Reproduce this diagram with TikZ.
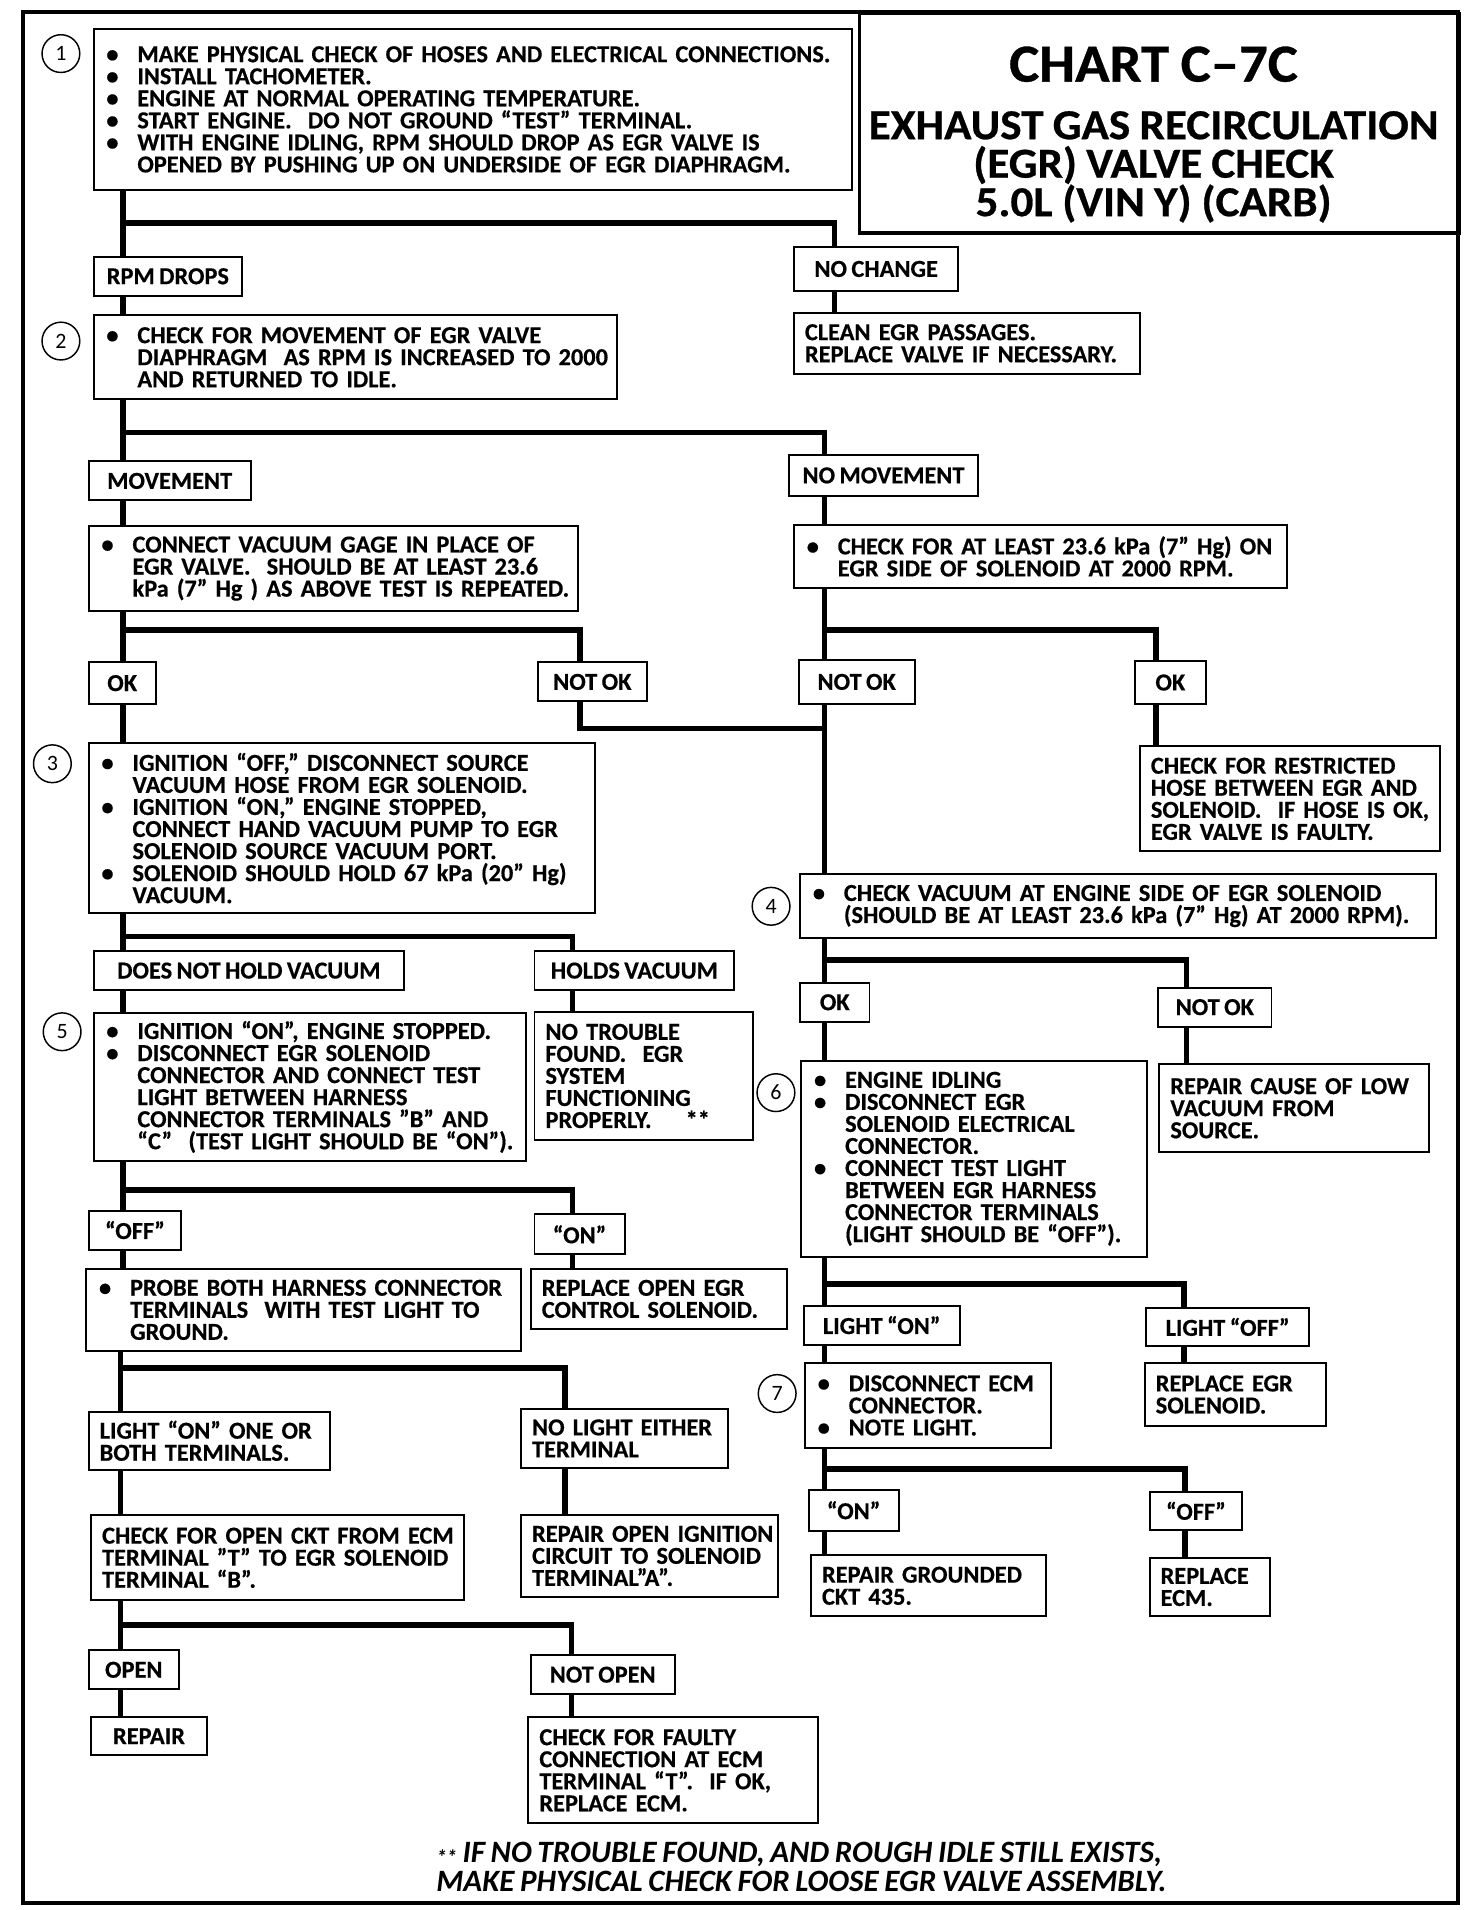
\documentclass[tikz,border=0pt]{standalone}
\usepackage{fontspec}
\setmainfont{Carlito}[WordSpace=0.8, BoldFeatures={FakeBold=0.5}]
\newfontfamily\titlefont{Carlito}[FakeStretch=1.06, WordSpace=0.9, BoldFeatures={FakeBold=0.6}]
\usetikzlibrary{calc}
\pgfdeclarelayer{bg}
\pgfsetlayers{bg,main}
\newlength\bind
\setlength\bind{27pt}
\newcommand\myL[1]{\hbox{#1}\par\noindent\ignorespaces}
\newcommand\myB[1]{\hbox{\makebox[\bind][l]{\hspace{1.5pt}\textbullet}#1}\par\noindent\ignorespaces}
\newcommand\myC[1]{\hbox{\hspace{\bind}#1}\par\noindent\ignorespaces}
\newcommand\boxfont{\fontsize{20}{18.1}\selectfont\bfseries}
\tikzset{
  box/.style={draw, line width=1.6pt, fill=white, inner xsep=9pt, inner ysep=0pt, anchor=north west, font=\boxfont},
  lbl/.style={draw, line width=1.6pt, fill=white, inner sep=0pt, anchor=north west, font=\boxfont},
  conn/.style={line width=4.5pt, line cap=rect, line join=miter},
  num/.style={draw, circle, line width=1.2pt, minimum size=31pt, inner sep=0pt, fill=white, font=\fontsize{18}{18}\selectfont},
  ttl/.style={inner sep=0pt},
  foot/.style={anchor=base west, inner sep=0pt, font=\fontsize{25.5}{26}\selectfont\bfseries\itshape},
}
\newcommand\bx[5]{\node[box, minimum width=#3pt, minimum height=#4pt, text width=#3pt-18pt] (#1) at (#2) {\lineskiplimit=-50pt\lineskip=0pt\relax\ignorespaces#5};}
\newcommand\lb[5]{\node[lbl, minimum width=#3pt, minimum height=#4pt] (#1) at (#2) {#5};}
\begin{document}
\begin{tikzpicture}[x=1pt,y=-1pt]
\useasboundingbox (0,0) rectangle (1208,1568);
\draw[line width=3.4pt] (19,10) rectangle (1197,1562);
\node[draw, line width=2.6pt, anchor=north west, minimum width=493pt, minimum height=180pt, inner sep=0pt] (title) at (704,10) {};
\node[ttl, anchor=base, font=\titlefont\fontsize{44}{44}\selectfont\bfseries] (t1) at (947,67) {CHART C–7C};
\node[ttl, anchor=center, align=center, font=\titlefont\fontsize{35}{31.6}\selectfont\bfseries] (t2) at (947,137) {EXHAUST GAS RECIRCULATION\\(EGR) VALVE CHECK\\5.0L\hspace{8pt}(VIN Y)\hspace{8pt}(CARB)};

\bx{b1}{76,23}{623}{132}{
\myB{MAKE PHYSICAL CHECK OF HOSES AND ELECTRICAL CONNECTIONS.}
\myB{INSTALL TACHOMETER.}
\myB{ENGINE AT NORMAL OPERATING TEMPERATURE.}
\myB{START ENGINE.\ \ DO NOT GROUND “TEST” TERMINAL.}
\myB{WITH ENGINE IDLING, RPM SHOULD DROP AS EGR VALVE IS}
\myC{OPENED BY PUSHING UP ON UNDERSIDE OF EGR DIAPHRAGM.}}
\node[num] (n1) at (50,44) {1};
\lb{rpm}{76,210}{122}{32}{RPM DROPS}
\lb{nochange}{651,202}{135}{36}{NO CHANGE}
\bx{clean}{651,256}{284}{50}{\myL{CLEAN EGR PASSAGES.}\myL{REPLACE VALVE IF NECESSARY.}}
\bx{b2}{76,258}{430}{69}{\myB{CHECK FOR MOVEMENT OF EGR VALVE}\myC{DIAPHRAGM\ \ AS RPM IS INCREASED TO 2000}\myC{AND RETURNED TO IDLE.}}
\node[num] (n2) at (50,280) {2};
\lb{movement}{72,378}{133}{32}{MOVEMENT}
\lb{nomove}{647,373}{155}{33}{NO MOVEMENT}
\bx{vac}{72,431}{402}{70}{\myB{CONNECT VACUUM GAGE IN PLACE OF}\myC{EGR VALVE.\ \ SHOULD BE AT LEAST 23.6}\myC{kPa (7” Hg ) AS ABOVE TEST IS REPEATED.}}
\bx{chk}{651,430}{405}{52}{\myB{CHECK FOR AT LEAST 23.6 kPa (7” Hg) ON}\myC{EGR SIDE OF SOLENOID AT 2000 RPM.}}
\lb{okL}{72,543}{55}{34}{OK}
\lb{notokL}{441,543}{89}{32}{NOT OK}
\lb{notokR}{655,541}{95}{36}{NOT OK}
\lb{okR}{931,542}{58}{35}{OK}
\bx{restr}{935,612}{246}{86}{\myL{CHECK FOR RESTRICTED}\myL{HOSE BETWEEN EGR AND}\myL{SOLENOID.\ \ IF HOSE IS OK,}\myL{EGR VALVE IS FAULTY.}}
\bx{b3}{72,609}{416}{140}{\myB{IGNITION “OFF,” DISCONNECT SOURCE}\myC{VACUUM HOSE FROM EGR SOLENOID.}\myB{IGNITION “ON,” ENGINE STOPPED,}\myC{CONNECT HAND VACUUM PUMP TO EGR}\myC{SOLENOID SOURCE VACUUM PORT.}\myB{SOLENOID SHOULD HOLD 67 kPa (20” Hg)}\myC{VACUUM.}}
\node[num] (n3) at (43,627) {3};
\bx{b4}{656,717}{522}{52}{\myB{CHECK VACUUM AT ENGINE SIDE OF EGR SOLENOID}\myC{(SHOULD BE AT LEAST 23.6 kPa (7” Hg) AT 2000 RPM).}}
\node[num] (n4) at (633,744) {4};
\lb{dnh}{76,780}{255}{32}{DOES NOT HOLD VACUUM}
\lb{holds}{438,780}{164}{32}{HOLDS VACUUM}
\lb{ok4}{656,806}{57}{32}{OK}
\lb{notok4}{950,810}{93}{32}{NOT OK}
\bx{notrouble}{438,830}{179}{105}{\myL{NO TROUBLE}\myL{FOUND.\ \ EGR}\myL{SYSTEM}\myL{FUNCTIONING}\myL{PROPERLY.\hspace{28pt}**}}
\bx{b5}{76,831}{355}{121}{\myB{IGNITION “ON”, ENGINE STOPPED.}\myB{DISCONNECT EGR SOLENOID}\myC{CONNECTOR AND CONNECT TEST}\myC{LIGHT BETWEEN HARNESS}\myC{CONNECTOR TERMINALS "B" AND}\myC{“C”\ \ (TEST LIGHT SHOULD BE “ON”).}}
\node[num] (n5) at (51,847) {5};
\bx{b6}{657,870}{284}{161}{\myB{ENGINE IDLING}\myB{DISCONNECT EGR}\myC{SOLENOID ELECTRICAL}\myC{CONNECTOR.}\myB{CONNECT TEST LIGHT}\myC{BETWEEN EGR HARNESS}\myC{CONNECTOR TERMINALS}\myC{(LIGHT SHOULD BE “OFF”).}}
\node[num] (n6) at (637,897) {6};
\bx{repcause}{951,873}{221}{72}{\myL{REPAIR CAUSE OF LOW}\myL{VACUUM FROM}\myL{SOURCE.}}
\lb{offL}{72,993}{76}{32}{“OFF”}
\lb{onL}{438,996}{74}{33}{“ON”}
\bx{probe}{70,1041}{357}{67}{\myB{PROBE BOTH HARNESS CONNECTOR}\myC{TERMINALS\ \ WITH TEST LIGHT TO}\myC{GROUND.}}
\bx{replopen}{435,1041}{210}{49}{\myL{REPLACE OPEN EGR}\myL{CONTROL SOLENOID.}}
\lb{lonR}{659,1071}{128}{32}{LIGHT “ON”}
\lb{loffR}{940,1073}{134}{31}{LIGHT “OFF”}
\bx{b7}{660,1118}{202}{70}{\myB{DISCONNECT ECM}\myC{CONNECTOR.}\myB{NOTE LIGHT.}}
\node[num] (n7) at (638,1144) {7};
\bx{repsol}{939,1118}{149}{52}{\myL{REPLACE EGR}\myL{SOLENOID.}}
\bx{lon1}{72,1158}{198}{48}{\myL{LIGHT “ON” ONE OR}\myL{BOTH TERMINALS.}}
\bx{nolight}{427,1156}{170}{48}{\myL{NO LIGHT EITHER}\myL{TERMINAL}}
\lb{onR}{663,1222}{74}{34}{“ON”}
\lb{offR}{943,1224}{76}{31}{“OFF”}
\bx{ckopen}{74,1243}{306}{70}{\myL{CHECK FOR OPEN CKT FROM ECM}\myL{TERMINAL "T" TO EGR SOLENOID}\myL{TERMINAL “B”.}}
\bx{repign}{427,1243}{211}{67}{\myL{REPAIR OPEN IGNITION}\myL{CIRCUIT TO SOLENOID}\myL{TERMINAL”A”.}}
\bx{repgnd}{665,1276}{193}{50}{\myL{REPAIR GROUNDED}\myL{CKT 435.}}
\bx{repecm}{943,1278}{99}{48}{\myL{REPLACE}\myL{ECM.}}
\lb{open}{72,1354}{74}{32}{OPEN}
\lb{notopen}{435,1358}{118}{32}{NOT OPEN}
\lb{repair}{74,1409}{95}{31}{REPAIR}
\bx{faulty}{433,1409}{238}{87}{\myL{CHECK FOR FAULTY}\myL{CONNECTION AT ECM}\myL{TERMINAL “T”.\ \ IF OK,}\myL{REPLACE ECM.}}

\node[foot] (foot1) at (358,1529) {\raisebox{-2pt}{\fontsize{17}{17}\selectfont **} IF NO TROUBLE FOUND, AND ROUGH IDLE STILL EXISTS,};
\node[foot] (foot2) at (358,1553) {MAKE PHYSICAL CHECK FOR LOOSE EGR VALVE ASSEMBLY.};

\coordinate (xa) at (101,0);
\coordinate (xb) at (99,0);
\coordinate (xr) at (677,0);
\coordinate (xnc) at (685,0);
\coordinate (xnl) at (476,0);
\coordinate (xh) at (470,0);
\coordinate (xn) at (464,0);
\coordinate (xno) at (469,0);
\coordinate (xq) at (949,0);
\coordinate (xq2) at (974,0);
\coordinate (xq3) at (972,0);
\coordinate (xq4) at (973,0);
\coordinate (j1) at (101,183);
\coordinate (j2) at (101,355);
\coordinate (j3) at (101,517);
\coordinate (j4) at (101,769);
\coordinate (j5) at (101,977);
\coordinate (j6) at (99,1123);
\coordinate (j7) at (99,1334);
\coordinate (jn) at (677,598);
\coordinate (j8) at (677,517);
\coordinate (j9) at (677,788);
\coordinate (j10) at (677,1054);
\coordinate (j11) at (677,1206);

\begin{pgfonlayer}{bg}
\draw[conn] (b1.south -| xa) -- (rpm.north -| xa);
\draw[conn] (rpm.south -| xa) -- (b2.north -| xa);
\draw[conn] (j1) -| (nochange.north -| xnc);
\draw[conn] (nochange.south -| xnc) -- (clean.north -| xnc);
\draw[conn] (b2.south -| xa) -- (movement.north -| xa);
\draw[conn] (j2) -| (nomove.north -| xr);
\draw[conn] (movement.south -| xa) -- (vac.north -| xa);
\draw[conn] (nomove.south -| xr) -- (chk.north -| xr);
\draw[conn] (vac.south -| xa) -- (okL.north -| xa);
\draw[conn] (j3) -| (notokL.north -| xnl);
\draw[conn] (chk.south -| xr) -- (notokR.north -| xr);
\draw[conn] (j8) -| (okR.north -| xq);
\draw[conn] (okR.south -| xq) -- (restr.north -| xq);
\draw[conn] (notokL.south -| xnl) |- (jn);
\draw[conn] (notokR.south -| xr) -- (b4.north -| xr);
\draw[conn] (okL.south -| xa) -- (b3.north -| xa);
\draw[conn] (b3.south -| xa) -- (dnh.north -| xa);
\draw[conn] (j4) -| (holds.north -| xh);
\draw[conn] (holds.south -| xh) -- (notrouble.north -| xh);
\draw[conn] (dnh.south -| xa) -- (b5.north -| xa);
\draw[conn] (b5.south -| xa) -- (offL.north -| xa);
\draw[conn] (j5) -| (onL.north -| xh);
\draw[conn] (onL.south -| xh) -- (replopen.north -| xh);
\draw[conn] (offL.south -| xa) -- (probe.north -| xa);
\draw[conn] (probe.south -| xb) -- (lon1.north -| xb);
\draw[conn] (j6) -| (nolight.north -| xn);
\draw[conn] (lon1.south -| xb) -- (ckopen.north -| xb);
\draw[conn] (nolight.south -| xn) -- (repign.north -| xn);
\draw[conn] (ckopen.south -| xb) -- (open.north -| xb);
\draw[conn] (j7) -| (notopen.north -| xno);
\draw[conn] (open.south -| xb) -- (repair.north -| xb);
\draw[conn] (notopen.south -| xno) -- (faulty.north -| xno);
\draw[conn] (b4.south -| xr) -- (ok4.north -| xr);
\draw[conn] (j9) -| (notok4.north -| xq2);
\draw[conn] (ok4.south -| xr) -- (b6.north -| xr);
\draw[conn] (notok4.south -| xq2) -- (repcause.north -| xq2);
\draw[conn] (b6.south -| xr) -- (lonR.north -| xr);
\draw[conn] (j10) -| (loffR.north -| xq3);
\draw[conn] (loffR.south -| xq3) -- (repsol.north -| xq3);
\draw[conn] (lonR.south -| xr) -- (b7.north -| xr);
\draw[conn] (b7.south -| xr) -- (onR.north -| xr);
\draw[conn] (j11) -| (offR.north -| xq4);
\draw[conn] (onR.south -| xr) -- (repgnd.north -| xr);
\draw[conn] (offR.south -| xq4) -- (repecm.north -| xq4);
\end{pgfonlayer}
\end{tikzpicture}
\end{document}
